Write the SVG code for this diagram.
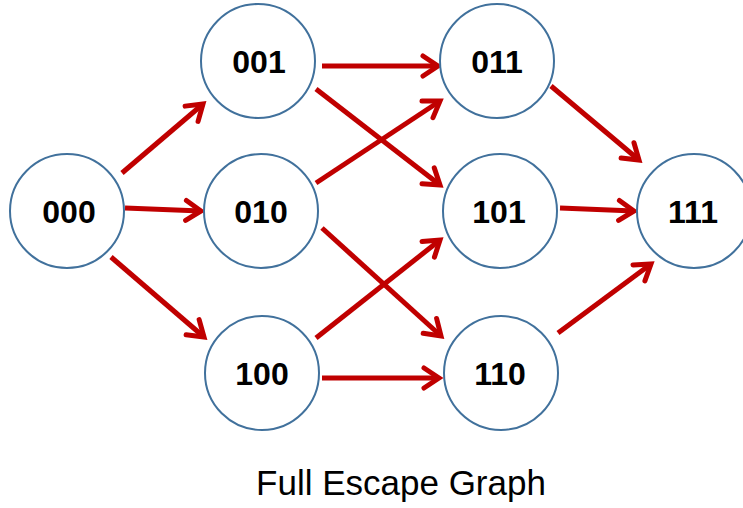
<svg xmlns="http://www.w3.org/2000/svg" width="743" height="508" viewBox="0 0 743 508">
<style>
.node circle{fill:#fff;stroke:#41719C;stroke-width:2}
.node text{font-family:"Liberation Sans",Arial,sans-serif;font-weight:bold;font-size:32px;fill:#000;text-anchor:middle}
.edge{stroke:#C00000;stroke-width:5;fill:none;marker-end:url(#ah)}
.title{font-family:"Liberation Sans",Arial,sans-serif;font-size:35px;fill:#000;text-anchor:middle}
</style>
<defs>
<marker id="ah" markerUnits="userSpaceOnUse" viewBox="-20 -15 30 30" markerWidth="30" markerHeight="30" refX="0" refY="0" orient="auto" overflow="visible">
<path d="M-15 -10 L0 0 L-15 10" fill="none" stroke="#C00000" stroke-width="5" stroke-linejoin="miter" stroke-linecap="round"/>
</marker>
</defs>
<g id="connectors">
<line class="edge" x1="125" y1="208" x2="201" y2="211"/>
<line class="edge" x1="122" y1="173" x2="203" y2="104"/>
<line class="edge" x1="111" y1="257" x2="204" y2="337"/>
<line class="edge" x1="322" y1="66" x2="438" y2="66"/>
<line class="edge" x1="316" y1="89" x2="440" y2="185"/>
<line class="edge" x1="316" y1="183" x2="440" y2="101"/>
<line class="edge" x1="322" y1="228" x2="441" y2="336"/>
<line class="edge" x1="316" y1="338" x2="440" y2="240"/>
<line class="edge" x1="322" y1="378" x2="439" y2="378"/>
<line class="edge" x1="551" y1="86" x2="639" y2="160"/>
<line class="edge" x1="560" y1="208" x2="634" y2="211"/>
<line class="edge" x1="558" y1="333" x2="651" y2="264"/>
</g>
<g id="n000" class="node"><circle cx="67" cy="211" r="57"/><text x="69" y="223">000</text></g>
<g id="n001" class="node"><circle cx="258" cy="61" r="57"/><text x="259" y="73">001</text></g>
<g id="n010" class="node"><circle cx="261" cy="211" r="57"/><text x="261" y="223">010</text></g>
<g id="n100" class="node"><circle cx="262" cy="373" r="57"/><text x="262" y="385">100</text></g>
<g id="n011" class="node"><circle cx="497" cy="61" r="57"/><text x="497" y="73">011</text></g>
<g id="n101" class="node"><circle cx="500" cy="211" r="57"/><text x="499" y="223">101</text></g>
<g id="n110" class="node"><circle cx="501" cy="373" r="57"/><text x="500" y="385">110</text></g>
<g id="n111" class="node"><circle cx="694" cy="211" r="57"/><text x="693" y="223">111</text></g>
<text class="title" x="401" y="495">Full Escape Graph</text>
</svg>
